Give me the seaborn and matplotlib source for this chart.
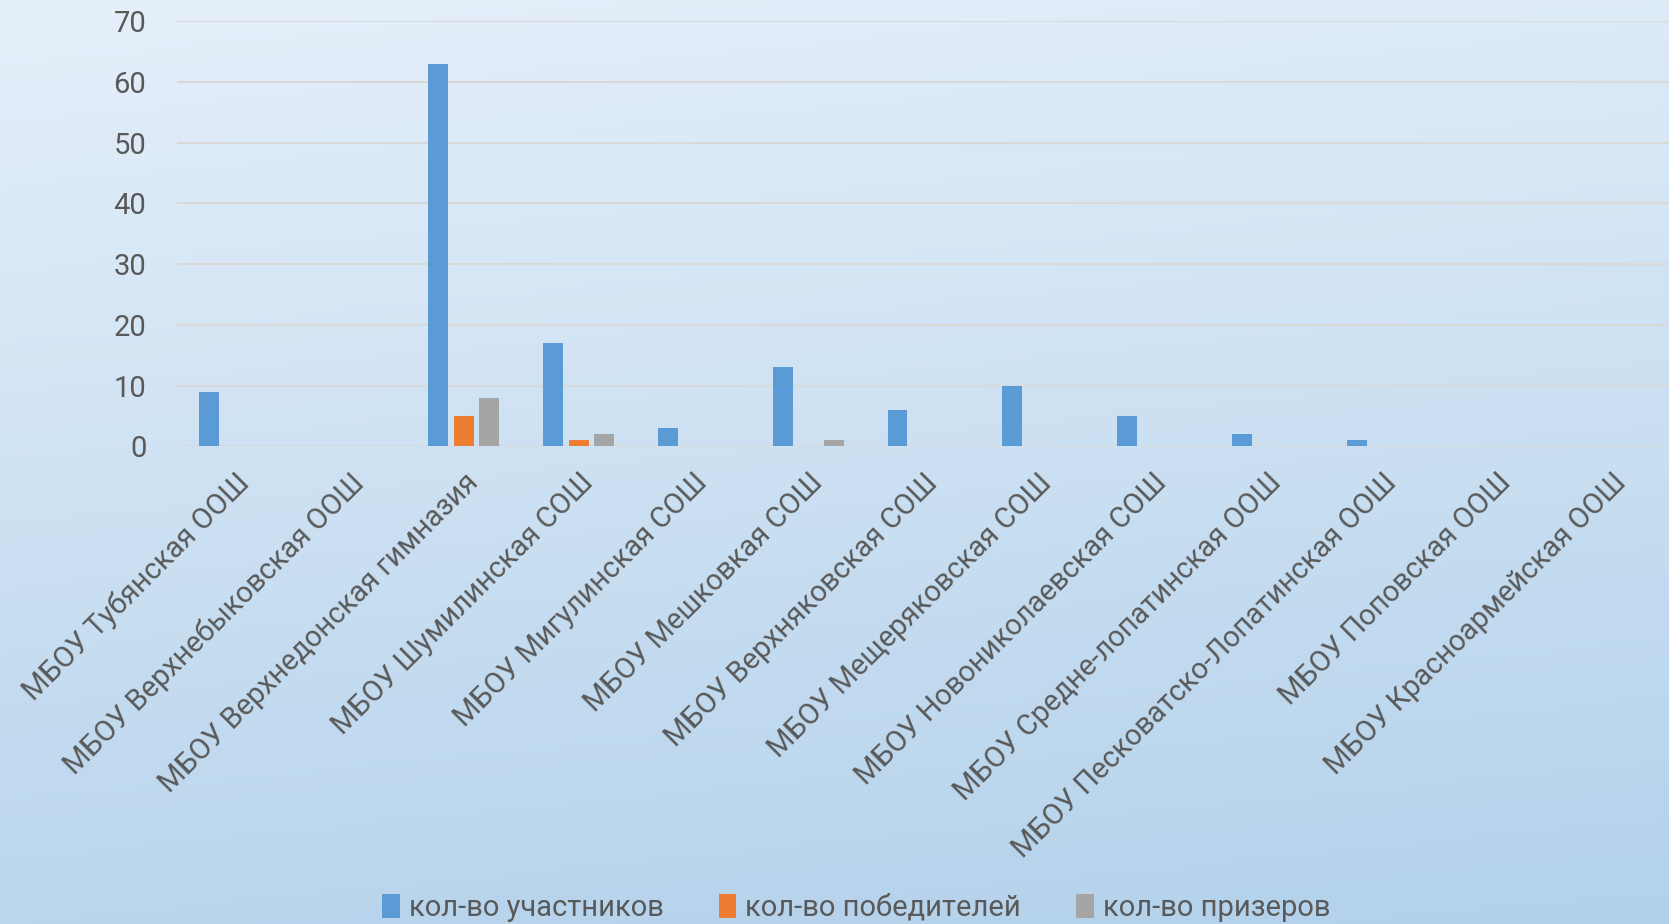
import numpy as np
import pandas as pd
import matplotlib
matplotlib.use("Agg")
import matplotlib.pyplot as plt
import seaborn as sns

# schools and counts
schools = ["МБОУ Тубянская ООШ", "МБОУ Верхнебыковская ООШ", "МБОУ Верхнедонская гимназия",
           "МБОУ Шумилинская СОШ", "МБОУ Мигулинская СОШ", "МБОУ Мешковкая СОШ",
           "МБОУ Верхняковская СОШ", "МБОУ Мещеряковская СОШ", "МБОУ Новониколаевская СОШ",
           "МБОУ Средне-лопатинская ООШ", "МБОУ Песковатско-Лопатинская ООШ",
           "МБОУ Поповская ООШ", "МБОУ Красноармейская ООШ"]
participants = [9, 0, 63, 17, 3, 13, 6, 10, 5, 2, 1, 0, 0]
winners = [0, 0, 5, 1, 0, 0, 0, 0, 0, 0, 0, 0, 0]
prizers = [0, 0, 8, 2, 0, 1, 0, 0, 0, 0, 0, 0, 0]
series = ["кол-во участников", "кол-во победителей", "кол-во призеров"]
colors = ["#5B9BD5", "#ED7D31", "#A5A5A5"]

df = pd.DataFrame({
    "school": schools * 3,
    "value": participants + winners + prizers,
    "series": [series[0]] * 13 + [series[1]] * 13 + [series[2]] * 13,
})

sns.set_style("white")
plt.rcParams["font.family"] = ["Roboto", "DejaVu Sans"]
txt = "#595959"

fig = plt.figure(figsize=(16.69, 9.24), dpi=100)

# gradient background
bg = fig.add_axes([0, 0, 1, 1], zorder=0)
yy, xx = np.mgrid[0:1:200j, 0:1:200j]
t = np.clip(0.85 * yy + 0.15 * xx, 0, 1)
top = np.array([0.90, 0.94, 0.98])
bot = np.array([0.70, 0.82, 0.92])
img = top[None, None, :] * (1 - t[..., None]) + bot[None, None, :] * t[..., None]
bg.imshow(img, aspect="auto", extent=[0, 1, 1, 0])
bg.axis("off")

ax = fig.add_axes([0.106, 0.517, 0.894, 0.46], zorder=1)
ax.patch.set_alpha(0)
sns.barplot(data=df, x="school", y="value", hue="series", palette=colors, saturation=1,
            width=0.666, gap=0.22, linewidth=0, ax=ax, legend=True)

ax.set_ylim(0, 70)
ax.set_xlim(-0.5, 12.5)
ax.set_yticks(range(0, 71, 10))
ax.yaxis.grid(True, color="#D9D9D9", linewidth=1.5)
ax.set_axisbelow(True)
for s in ax.spines.values():
    s.set_visible(False)
ax.set_xlabel("")
ax.set_ylabel("")
ax.tick_params(axis="both", length=0, colors=txt, labelsize=21)
ax.tick_params(axis="y", pad=22)
ax.tick_params(axis="x", pad=16)
plt.setp(ax.get_xticklabels(), rotation=45, ha="right", rotation_mode="anchor")

handles, labels = ax.get_legend_handles_labels()
ax.get_legend().remove()
fig.legend(handles, labels, loc="lower center", bbox_to_anchor=(0.513, -0.026), ncol=3,
           frameon=False, fontsize=21, labelcolor=txt, handlelength=0.6, handleheight=0.9,
           handletextpad=0.3, columnspacing=1.9)

fig.savefig("out.png", dpi=100)
